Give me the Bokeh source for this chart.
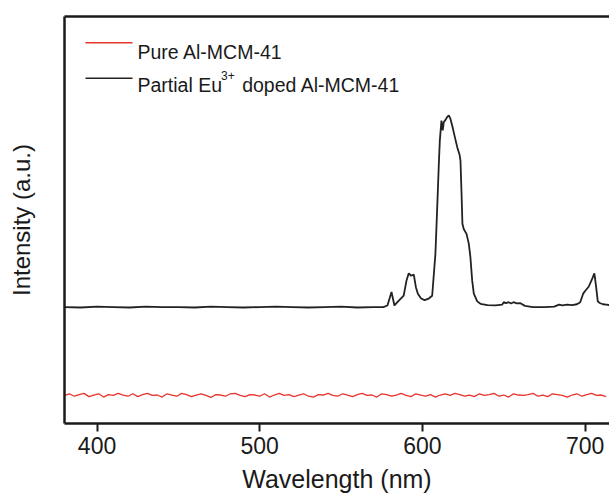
from bokeh.plotting import figure
from bokeh.models import Range1d, LinearAxis, FixedTicker, Label, Arrow
from bokeh.embed import file_html
from bokeh.resources import INLINE

# ---- data ----
x_ticks = [400, 500, 600, 700]

eu_wl = [380, 390, 400, 410, 420, 430, 440, 450, 460, 470,
         480, 490, 500, 510, 520, 530, 540, 550, 560, 570,
         576, 578.5, 581.0, 582.8, 585.5, 588.5, 590.2, 591.6, 593.1, 594.7,
         596.0, 597.2, 599.2, 601.3, 603.9, 606.0, 608.0, 609.1, 610.1, 610.7,
         611.7, 612.5, 613.1, 614.2, 615.2, 616.2, 617.2, 618.3, 619.7, 621.4,
         622.8, 623.4, 624.0, 624.6, 625.4, 627.1, 628.5, 629.5, 630.6, 631.6,
         633.7, 635.7, 640, 645, 649, 650, 651.5, 653, 654.5, 656,
         658, 660, 663, 668, 675, 681, 684, 686, 689, 692,
         695, 697, 698.8, 700.5, 702.2, 704, 705.7, 706.8, 707.8, 709,
         711, 713, 715]
eu_int = [28.6, 28.5, 28.7, 28.6, 28.5, 28.7, 28.6, 28.6, 28.5, 28.7,
          28.6, 28.5, 28.6, 28.7, 28.6, 28.5, 28.6, 28.7, 28.5, 28.6,
          28.6, 29.0, 32.3, 29.0, 30.2, 31.4, 35.1, 36.9, 36.3, 36.6,
          33.5, 31.9, 30.7, 30.3, 30.7, 31.4, 41.7, 53.1, 63.8, 69.5,
          74.4, 72.0, 74.0, 74.6, 75.3, 75.7, 74.9, 73.2, 70.8, 67.9,
          66.1, 64.6, 57.2, 49.1, 47.8, 46.6, 44.2, 40.9, 35.1, 31.9,
          30.0, 29.4, 29.1, 29.0, 29.2, 29.8, 29.6, 29.8, 29.5, 29.8,
          29.5, 29.6, 28.9, 28.6, 28.6, 28.7, 29.2, 29.0, 29.2, 29.1,
          29.3, 29.8, 31.9, 32.8, 33.6, 35.2, 36.9, 33.5, 30.0, 29.6,
          29.3, 29.2, 29.1]

pure_wl = list(range(380, 716, 3))
pure_int = [6.9, 7.3, 6.7, 7.1, 7.4, 6.6, 7.0, 7.3, 6.5, 7.1,
            6.9, 7.4, 7.0, 6.7, 7.3, 6.6, 7.1, 7.4, 6.9, 7.0,
            6.5, 7.3, 7.0, 6.7, 7.4, 7.1, 6.6, 7.0, 7.3, 6.9,
            6.4, 7.1, 7.0, 6.7, 7.3, 7.4, 6.9, 6.6, 7.1, 7.0,
            6.7, 7.3, 6.5, 7.0, 7.4, 6.9, 7.1, 6.6, 7.0, 7.3,
            6.7, 6.5, 7.1, 7.0, 7.4, 6.9, 6.7, 7.3, 7.0, 6.6,
            7.1, 7.4, 6.9, 7.0, 6.5, 7.3, 7.1, 6.7, 7.0, 7.4,
            6.9, 6.6, 7.3, 7.0, 6.7, 7.1, 6.5, 7.0, 7.3, 6.9,
            7.4, 7.1, 6.7, 7.0, 6.6, 7.3, 6.9, 7.1, 7.4, 6.7,
            7.0, 6.5, 7.3, 7.0, 6.9, 7.1, 7.4, 6.7, 7.0, 6.6,
            7.3, 7.1, 6.9, 6.5, 7.0, 7.3, 6.7, 7.1, 7.4, 6.9,
            7.0, 6.6]
n = min(len(pure_wl), len(pure_int))
pure_wl, pure_int = pure_wl[:n], pure_int[:n]

label_pure = "Pure Al-MCM-41"
label_eu_a = "Partial Eu"
label_eu_sup = "3+"
label_eu_b = "doped Al-MCM-41"

# ---- styling ----
FONT = "Liberation Sans"
INK = "#1a1a1a"
RED = "#e8342c"
BLK = "#222222"

p = figure(width=609, height=502, output_backend="svg", toolbar_location=None,
           x_range=Range1d(380, 715), y_range=Range1d(0, 100),
           x_axis_label="Wavelength (nm)", y_axis_label="Intensity (a.u.)",
           min_border_left=64, min_border_right=0, min_border_top=16,
           min_border_bottom=79)
p.outline_line_color = None
p.grid.visible = False
p.background_fill_color = "white"
p.border_fill_color = "white"

xa = p.xaxis[0]
xa.ticker = FixedTicker(ticks=x_ticks)
xa.major_tick_out = 8
xa.major_tick_in = 0
xa.minor_tick_out = 0
xa.minor_tick_in = 0
xa.major_tick_line_width = 2
xa.major_tick_line_color = INK
xa.axis_line_width = 2.5
xa.axis_line_color = INK
xa.major_label_text_font = FONT
xa.major_label_text_font_size = "23px"
xa.major_label_text_color = INK
xa.major_label_standoff = 5
xa.axis_label_text_font = FONT
xa.axis_label_text_font_size = "25px"
xa.axis_label_text_font_style = "normal"
xa.axis_label_text_color = INK
xa.axis_label_standoff = 8

ya = p.yaxis[0]
ya.ticker = FixedTicker(ticks=[])
ya.major_tick_out = 0
ya.major_tick_in = 0
ya.minor_tick_out = 0
ya.minor_tick_in = 0
ya.major_label_text_font_size = "0px"
ya.axis_line_width = 2.5
ya.axis_line_color = INK
ya.axis_label_text_font = FONT
ya.axis_label_text_font_size = "24px"
ya.axis_label_text_font_style = "normal"
ya.axis_label_text_color = INK
ya.axis_label_standoff = 30

top = LinearAxis(ticker=FixedTicker(ticks=[]), major_tick_out=0, major_tick_in=0,
                 minor_tick_out=0, minor_tick_in=0, major_label_text_font_size="0px",
                 axis_line_width=2.5, axis_line_color=INK)
p.add_layout(top, "above")

p.line(pure_wl, pure_int, line_color=RED, line_width=1.3)
p.line(eu_wl, eu_int, line_color=BLK, line_width=1.8)

# ---- legend (screen units, relative to plot frame) ----
FS = 19.5
tx = 73
row1_line, row1_base = 380.7, 372
row2_line, row2_base = 345.3, 339

p.add_layout(Arrow(end=None, x_start=21, x_end=68, y_start=row1_line, y_end=row1_line,
                   start_units="screen", end_units="screen",
                   line_color=RED, line_width=1.5))
p.add_layout(Arrow(end=None, x_start=21, x_end=68, y_start=row2_line, y_end=row2_line,
                   start_units="screen", end_units="screen",
                   line_color=BLK, line_width=1.5))

def lab(x, y, t, fs):
    p.add_layout(Label(x=x, y=y, x_units="screen", y_units="screen", text=t,
                       text_font=FONT, text_font_size=f"{fs}px", text_color=INK,
                       text_baseline="alphabetic", text_align="left"))

lab(tx, row1_base, label_pure, FS)
lab(tx, row2_base, label_eu_a, FS)
w_a = 4.335 * FS
lab(tx + w_a - 1, row2_base + 9, label_eu_sup, 12)
lab(tx + w_a - 1 + 1.14 * 12 + 0.278 * FS + 2, row2_base, label_eu_b, FS)

open("out.html", "w").write(file_html(p, INLINE))
